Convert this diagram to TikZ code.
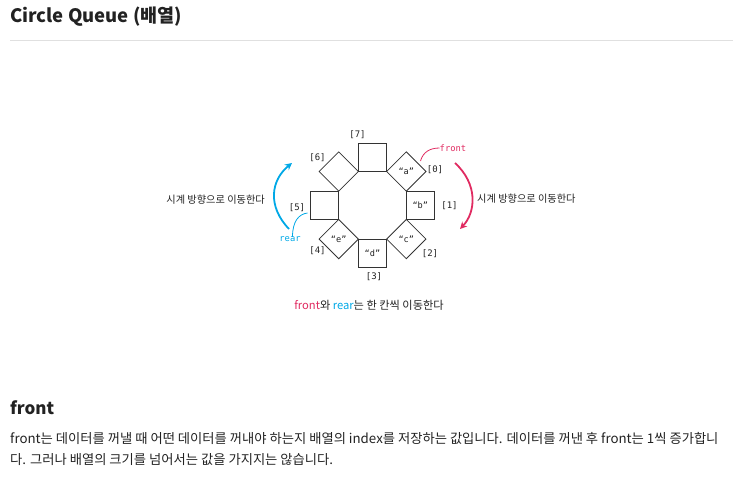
\documentclass[tikz,border=0pt]{standalone}
\usepackage{fontspec}
\setmainfont{Noto Sans CJK KR}
\newfontfamily\kr{Noto Sans CJK KR}
\newfontfamily\monof{DejaVu Sans Mono}
\usetikzlibrary{shapes.geometric,arrows.meta}
\definecolor{frontc}{RGB}{224,43,97}
\definecolor{rearc}{RGB}{0,168,230}
\definecolor{txt}{RGB}{34,34,34}
\begin{document}
\begin{tikzpicture}[x=1pt,y=-1pt,
  every node/.style={inner sep=0pt, text=txt},
  sqcell/.style={rectangle, draw=black!80, line width=0.8pt, minimum size=28pt, font=\monof\fontsize{8.6}{10}\selectfont},
  dmcell/.style={diamond, aspect=1, draw=black!80, line width=0.8pt, minimum width=39.6pt, minimum height=39.6pt, font=\monof\fontsize{8.6}{10}\selectfont},
  idx/.style={font=\monof\fontsize{9}{10}\selectfont},
  side/.style={font=\kr\fontsize{10.2}{12}\selectfont},
  bigarrow/.style={line width=1.8pt, -{Stealth[length=7pt,width=7pt]}},
  smallcurve/.style={line width=0.8pt}
]
\useasboundingbox (0,0) rectangle (743,477);
% title
\node[anchor=west, font=\kr\bfseries\fontsize{18.5}{22}\selectfont] (title) at (10,17) {Circle Queue (배열)};
\draw[black!12, line width=0.8pt] (10,40) -- (733,40);

% cells
\node[sqcell] (c7) at (372.5,157.5) {};
\node[dmcell] (c0) at (406.3,171.5) {“a”};
\node[sqcell] (c1) at (420.3,205.3) {“b”};
\node[dmcell] (c2) at (406.3,239.1) {“c”};
\node[sqcell] (c3) at (372.5,253.1) {“d”};
\node[dmcell] (c4) at (338.7,239.1) {“e”};
\node[sqcell] (c5) at (324.7,205.3) {};
\node[dmcell] (c6) at (338.7,171.5) {};

% index labels
\node[idx] (i7) at (357.5,135) {[7]};
\node[idx] (i6) at (317.5,157.3) {[6]};
\node[idx] (i0) at (435,170) {[0]};
\node[idx] (i1) at (449.5,206) {[1]};
\node[idx] (i2) at (430,254) {[2]};
\node[idx] (i3) at (374,276.5) {[3]};
\node[idx] (i4) at (317.5,251) {[4]};
\node[idx] (i5) at (297,207.3) {[5]};

% front / rear pointers
\node[anchor=west, font=\monof\fontsize{8.8}{10}\selectfont, text=frontc] (front) at (439.5,148) {front};
\node[font=\monof\fontsize{8.8}{10}\selectfont, text=rearc] (rear) at (290,239.5) {rear};
\coordinate (fstart) at (420.5,161);
\coordinate (rend) at (307.5,213);
\draw[frontc, smallcurve] (fstart) .. controls (423,152) and (430,148) .. (front.west);
\draw[rearc, smallcurve] (rear.north -| 292.5,0) .. controls (292.5,221) and (299,214) .. (rend);

% big arrows
\coordinate (bs) at (289,229);
\coordinate (be) at (292,163);
\draw[rearc, bigarrow] (bs) .. controls (267,206) and (271,180) .. (be);
\coordinate (ps) at (455,163);
\coordinate (pe) at (460,229);
\draw[frontc, bigarrow] (ps) .. controls (478,184) and (476,212) .. (pe);

\node[side, anchor=east] (lside) at (265,200) {시계 방향으로 이동한다};
\node[side, anchor=west] (rside) at (477,199) {시계 방향으로 이동한다};

% caption
\node[font=\kr\fontsize{11.2}{13}\selectfont] (cap) at (369,305) {\textcolor{frontc}{front}와 \textcolor{rearc}{rear}는 한 칸씩 이동한다};

% section
\node[anchor=west, font=\kr\bfseries\fontsize{17}{20}\selectfont] (head) at (10,408) {front};
\node[anchor=west, font=\kr\fontsize{13.3}{16}\selectfont] (p1) at (10,438) {front는 데이터를 꺼낼 때 어떤 데이터를 꺼내야 하는지 배열의 index를 저장하는 값입니다. 데이터를 꺼낸 후 front는 1씩 증가합니};
\node[anchor=west, font=\kr\fontsize{13.3}{16}\selectfont] (p2) at (10,460) {다. 그러나 배열의 크기를 넘어서는 값을 가지지는 않습니다.};
\end{tikzpicture}
\end{document}
